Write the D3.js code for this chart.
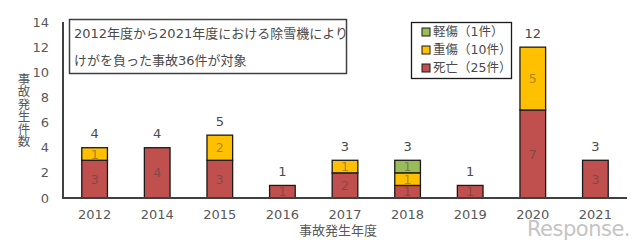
<!DOCTYPE html>
<html>
<head>
<meta charset="utf-8">
<script src="https://cdn.jsdelivr.net/npm/d3@7"></script>
<style>
  body { margin: 0; background: #fff; }
  text { font-family: "DejaVu Sans", "Noto Sans CJK JP", sans-serif; }
</style>
</head>
<body>
<script>
// ================= Data ======================
const years   = ["2012", "2014", "2015", "2016", "2017", "2018", "2019", "2020", "2021"];
const death   = [3, 4, 3, 1, 2, 1, 1, 7, 3];   // 死亡
const serious = [1, 0, 2, 0, 1, 1, 0, 5, 0];   // 重傷
const minor   = [0, 0, 0, 0, 0, 1, 0, 0, 0];   // 軽傷
const yTicks  = [0, 2, 4, 6, 8, 10, 12, 14];
const legendLabels = ["軽傷（1件）", "重傷（10件）", "死亡（25件）"];
const noteLines = ["2012年度から2021年度における除雪機により", "けがを負った事故36件が対象"];

const seriesKeys = ["death", "serious", "minor"];
const colors = {death: "#C0504D", serious: "#FFC000", minor: "#9BBB59"};

const rows = years.map((y, i) => ({year: y, death: death[i], serious: serious[i], minor: minor[i]}));
const stacked = d3.stack().keys(seriesKeys)(rows);

// ================= Layout ======================
const width = 640, height = 249;
const svg = d3.select("body").append("svg")
  .attr("width", width).attr("height", height);

const x = d3.scaleBand().domain(years).range([63, 627]).paddingInner(0.59).paddingOuter(0.3);
const y = d3.scaleLinear().domain([0, 14]).range([198, 22]);

// watermark (behind everything)
svg.append("text")
  .attr("x", 630).attr("y", 236)
  .attr("text-anchor", "end")
  .attr("font-size", 21).attr("font-family", "DejaVu Sans")
  .attr("fill", "#c4c4c4")
  .attr("letter-spacing", -0.5)
  .text("Response.");

// y axis labels
svg.append("g").selectAll("text").data(yTicks).join("text")
  .attr("x", 49).attr("y", d => y(d)).attr("dy", "0.35em")
  .attr("text-anchor", "end")
  .attr("font-size", 13).attr("fill", "#595959")
  .text(d => d);

// y title (vertical)
svg.append("text")
  .attr("x", 23).attr("y", 110)
  .attr("writing-mode", "tb")
  .attr("text-anchor", "middle")
  .attr("font-size", 12.5).attr("fill", "#595959")
  .attr("font-family", "Noto Sans CJK JP")
  .text("事故発生件数");

// bars
const groups = svg.append("g").selectAll("g").data(stacked).join("g")
  .attr("fill", d => colors[d.key]);

groups.selectAll("rect").data(d => d.filter(s => s[1] > s[0])).join("rect")
  .attr("x", d => x(d.data.year))
  .attr("width", x.bandwidth())
  .attr("y", d => y(d[1]))
  .attr("height", d => y(d[0]) - y(d[1]))
  .attr("stroke", "#1a1a1a").attr("stroke-width", 1.3);

// inner segment labels
groups.selectAll("text").data(d => d.filter(s => s[1] > s[0])).join("text")
  .attr("x", d => x(d.data.year) + x.bandwidth() / 2)
  .attr("y", d => (y(d[0]) + y(d[1])) / 2)
  .attr("dy", "0.36em")
  .attr("text-anchor", "middle")
  .attr("font-size", 12.5)
  .attr("fill", "#3a3a3a").attr("fill-opacity", 0.45)
  .text(d => d[1] - d[0]);

// totals
svg.append("g").selectAll("text").data(rows).join("text")
  .attr("x", d => x(d.year) + x.bandwidth() / 2)
  .attr("y", d => y(d.death + d.serious + d.minor) - 14)
  .attr("dy", "0.35em")
  .attr("text-anchor", "middle")
  .attr("font-size", 13).attr("fill", "#4a4a4a")
  .text(d => d.death + d.serious + d.minor);

// axes lines
svg.append("line").attr("x1", 63).attr("x2", 63).attr("y1", y(14)).attr("y2", y(0) + 1)
  .attr("stroke", "#404040").attr("stroke-width", 2);
svg.append("line").attr("x1", 63).attr("x2", 627).attr("y1", y(0)).attr("y2", y(0))
  .attr("stroke", "#404040").attr("stroke-width", 2);

// x labels
svg.append("g").selectAll("text").data(years).join("text")
  .attr("x", d => x(d) + x.bandwidth() / 2)
  .attr("y", 214).attr("dy", "0.35em")
  .attr("text-anchor", "middle")
  .attr("font-size", 13).attr("fill", "#595959")
  .text(d => d);

svg.append("text")
  .attr("x", 338).attr("y", 230).attr("dy", "0.35em")
  .attr("text-anchor", "middle")
  .attr("font-size", 13).attr("fill", "#595959")
  .text("事故発生年度");

// note box
svg.append("rect").attr("x", 69.5).attr("y", 19.5).attr("width", 277).attr("height", 54)
  .attr("fill", "#fff").attr("stroke", "#404040").attr("stroke-width", 1.5);
svg.append("g").selectAll("text").data(noteLines).join("text")
  .attr("x", 74).attr("y", (d, i) => 33 + i * 27).attr("dy", "0.35em")
  .attr("font-size", 13).attr("fill", "#4a4a4a")
  .text(d => d);

// legend
svg.append("rect").attr("x", 411.5).attr("y", 22.5).attr("width", 100).attr("height", 56)
  .attr("fill", "#fff").attr("stroke", "#1a1a1a").attr("stroke-width", 1.3);
const legendKeys = ["minor", "serious", "death"];
const lg = svg.append("g").selectAll("g").data(legendKeys).join("g")
  .attr("transform", (d, i) => `translate(422, ${32 + i * 18})`);
lg.append("rect").attr("x", 0).attr("y", -4).attr("width", 8).attr("height", 8)
  .attr("fill", d => colors[d]).attr("stroke", "#1a1a1a").attr("stroke-width", 1);
lg.append("text").attr("x", 11).attr("dy", "0.35em")
  .attr("font-size", 12.5).attr("fill", "#4a4a4a")
  .text((d, i) => legendLabels[i]);
</script>
</body>
</html>
